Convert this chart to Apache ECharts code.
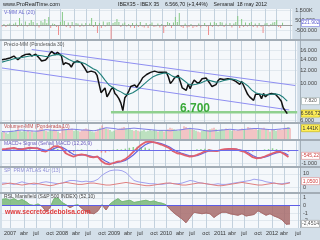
<!DOCTYPE html>
<html><head><meta charset="utf-8">
<script src="https://cdn.jsdelivr.net/npm/echarts@6/dist/echarts.min.js"></script>
<style>html,body{margin:0;padding:0;background:#d3dfe9;}#c{width:320px;height:240px;}</style>
</head><body><div id="c"></div>
<script>
// ---------- categories: biweekly dates (Friday closes) ----------
const categories = [];
(function(){ const d0 = Date.UTC(2006,10,10); for (let i=0;i<150;i++){ categories.push(new Date(d0+i*14*86400000).toISOString().slice(0,10)); } })();
const monthNames = {3:'abr',6:'jul',9:'oct'};

// ---------- data ----------
const price = [
13950,13900,14100,14250,14300,14550,14700,14800,13950,14000,
14650,14900,15050,15000,15150,14700,14850,15100,14900,14200,
13700,14000,13900,14350,15100,15700,15500,15000,15500,15200,
14700,13000,13400,13200,13100,12600,13300,13400,13750,13600,
13350,12800,12300,11700,11800,11900,11950,11700,11200,11300,
8800,8700,9400,8300,8700,9200,9500,8700,8450,8100,
7600,6850,8200,8500,9000,9600,9400,9800,9500,9700,
10300,10850,11000,11350,11400,11700,11750,11900,11600,11700,
11800,11700,11950,11700,10950,10000,10350,10800,10900,11200,
10900,9400,9300,9100,9900,9300,10000,10500,10300,10000,
10300,10700,10900,10800,10850,10000,9600,9800,9860,10400,
10700,10900,10600,10400,10700,10900,10600,10500,10300,10200,
9900,10300,9700,9600,8600,8300,8100,7900,8600,8800,
8600,8100,8700,8300,8560,8500,8700,8700,8600,8400,
8100,7800,7100,7100,6567];
// weighted MA 30 (monthly readings, every 2nd category)
const ma30 = [13500,13700,13900,14150,14300,14400,14550,14700,14800,14850,
14750,14600,14650,14900,15050,14900,14400,13950,13600,13500,
13450,13200,12750,12300,12000,11300,10500,9800,9450,9150,
8900,8600,8600,8800,9100,9500,10000,10500,10950,11250,
11450,11600,11500,11100,10900,10850,10400,9950,9800,9900,
10050,10300,10500,10350,10200,10250,10450,10550,10650,10550,
10300,10100,9700,9150,8800,8650,8550,8550,8600,8650,
8550,8250,7820];
const channelUpper = [[15,16110],[148,9731]];
const channelLower = [[0,12435],[145,6906]];
const supportLevel = 6700;
const priceTicks = [6000,10000,12000,14000,16000];

const volDiff = [
-150,100,-200,80,150,-100,120,250,-180,700,
150,-120,350,-150,200,500,300,-120,200,-250,
400,250,600,200,800,-300,150,100,-200,-1000,
300,1300,400,-200,250,-300,300,-150,200,150,
-200,150,-150,200,-100,150,700,-200,300,-800,
200,-300,350,-150,250,300,-1400,200,300,600,
300,-200,150,250,-150,100,-250,200,-300,150,
-200,300,-150,-250,200,-300,100,250,-200,-150,
150,-250,100,-800,-200,300,200,-300,250,800,
300,1200,-200,-300,150,-250,-200,100,-300,-150,
-200,150,-250,-100,200,-150,-1000,250,-200,300,
200,-150,300,250,-200,150,-100,200,-250,150,
300,900,-300,600,-200,250,-150,200,300,-200,
150,-250,200,-200,-800,150,200,-150,100,250,
300,500,-200,-300,220];
const volDiffTicks = [1500,500,-500];

const volume = [
0.9,1.0,0.8,0.7,1.0,1.1,1.0,1.2,1.5,1.1,1.0,1.1,1.0,1.2,1.0,1.1,0.9,1.0,1.2,1.4,1.5,1.2,1.1,1.0,1.2,1.1,1.3,1.2,1.0,0.8,
1.7,1.4,1.3,1.2,1.3,1.4,1.1,1.2,1.1,1.0,1.2,1.3,1.4,1.3,1.2,1.0,0.9,1.0,1.3,1.5,1.8,1.5,1.4,1.3,1.2,1.0,
1.1,1.2,1.3,1.4,1.5,1.6,1.4,1.3,1.3,1.2,1.1,1.2,1.1,1.0,1.1,1.2,1.0,1.1,1.2,1.1,1.2,1.1,1.0,1.1,1.2,1.0,
1.2,1.3,1.5,1.4,1.3,1.2,1.1,1.2,1.3,1.7,1.6,1.4,1.5,1.3,1.2,1.1,1.0,0.9,1.1,1.2,1.1,1.2,1.3,1.4,1.5,1.3,1.0,
1.2,1.3,1.2,1.4,1.3,1.2,1.1,1.2,1.1,1.2,1.3,1.4,1.3,1.2,1.6,1.5,1.4,1.3,1.4,1.2,1.3,1.4,1.5,1.3,1.2,1.0,
1.3,1.2,1.1,1.2,1.3,1.2,1.4,1.5,1.6,1.44];
const volMA = [1.0,0.95,1.0,1.05,1.15,1.2,1.1,1.1,1.05,1.05,1.15,1.25,1.2,1.15,1.15,1.2,1.25,1.3,1.3,1.25,
1.2,1.2,1.15,1.1,1.2,1.35,1.5,1.45,1.4,1.3,1.3,1.35,1.4,1.45,1.4,1.35,1.3,1.25,1.2,1.15,
1.15,1.15,1.1,1.15,1.2,1.25,1.35,1.4,1.35,1.3,1.2,1.1,1.05,1.1,1.15,1.2,1.25,1.3,1.25,1.2,
1.25,1.3,1.35,1.4,1.4,1.35,1.3,1.25,1.25,1.3,1.35,1.4,1.44];

const macd = [50,80,120,160,60,40,120,180,150,120,-60,-120,50,280,300,150,-250,-400,-520,-400,
-330,-400,-520,-560,-500,-850,-1050,-1100,-1000,-900,-850,-700,-450,-150,150,400,600,640,600,520,
420,300,150,-100,-250,-300,-420,-500,-480,-380,-250,-100,-20,-60,-80,0,60,80,90,40,
-60,-150,-350,-550,-640,-600,-500,-380,-250,-150,-150,-320,-545];
const signal = [30,50,80,120,110,80,90,130,150,140,60,-30,-30,100,220,220,50,-150,-350,-420,
-380,-380,-450,-520,-520,-650,-850,-1000,-1030,-960,-900,-800,-620,-380,-100,180,400,550,600,570,
490,380,250,50,-120,-230,-330,-430,-470,-430,-330,-190,-80,-60,-70,-30,20,60,80,60,
0,-90,-230,-420,-560,-600,-550,-450,-330,-220,-170,-230,-400];
const macdHist = [20,30,40,40,-50,-40,30,50,0,-20,-120,-90,80,180,80,-70,-300,-250,-170,20,
50,-20,-70,-40,20,-200,-200,-100,30,60,50,100,170,230,250,220,200,90,0,-50,
-70,-80,-100,-150,-130,-70,-90,-70,-10,50,80,90,60,0,-10,30,40,20,10,-20,
-60,-60,-120,-130,-80,0,50,70,130,70,20,-90,-145];

const spBlue = [3,3,2.5,2,3,4,3,2.5,2,2.5,3.5,4,3.5,3,2.5,3,4,5,5,4.5,
4,4.5,4,4.5,6,9,11,12.5,13,13,12.5,11,8,5,4,3.5,3,2.5,2.5,2,
2,2.5,3,2.5,2.5,3,4,5,4.5,3.5,3,2.5,2,2,2.5,2,2,2.5,3,3.5,
4,4.5,5,6,5.5,5,4,3.5,3,2.5,2.5,3,3.5];
const spRed = [2,2.5,3,2.5,2,1.5,2,2.5,3,2.5,2,1.5,1,1.5,2.5,3,3.5,3,2.5,2,
2,2.5,3,3,2.5,2,1.5,1.5,2,2.5,3,3.5,3,2.5,2,1.5,1,1,1.5,2,
2.5,3,3,2.5,2,1.5,1.5,2,2.5,3,3,2.5,2,1.5,1,1,1.5,2,2.5,3,
3.5,3,2.5,2,1.5,1.5,2,2.5,3,2.5,2,2.5,3.2];

const rsl = [0.8,0.9,0.7,0.9,0.6,0.8,0.5,0.1,0.0,0.2,-0.1,-0.8,-0.3,0.9,1.0,0.4,0.1,-0.3,0.0,0.1,
-0.4,-0.8,-1.0,-1.1,-0.7,0.1,-0.6,0.2,0.6,0.9,0.5,0.6,0.7,0.4,0.5,0.6,0.7,0.5,0.6,0.4,
0.3,0.1,-0.5,-1.0,-1.4,-1.8,-2.3,-1.6,-0.9,-1.0,-1.1,-1.0,-1.1,-1.6,-1.2,-0.9,-0.9,-1.1,-1.2,-1.3,
-1.1,-1.4,-1.3,-1.2,-0.7,-1.0,-1.3,-1.1,-1.4,-1.6,-1.9,-2.5,-2.45];

// ---------- helpers ----------
const L = Math.log;
const monthOf = i => parseInt(categories[i].slice(5,7),10)-1;
const isQ = categories.map((c,i)=> i>0 && monthOf(i)%3===0 && monthOf(i)!==monthOf(i-1));
const qInterval = (idx) => isQ[idx];
const qLabel = (val) => { const m = parseInt(val.slice(5,7),10)-1; return m===0 ? val.slice(0,4) : (monthNames[m]||''); };
const dots = v => String(Math.round(v)).replace(/\B(?=(\d{3})+(?!\d))/g,'.');
const every2 = arr => arr.map((v,k)=>[2*k, v]);

const FONT = 'Liberation Sans, Arial, sans-serif';
const grids = [
  {top:9, height:30}, {top:41, height:81}, {top:124, height:15},
  {top:141, height:25}, {top:168, height:24}, {top:194, height:34}
].map(g => Object.assign({left:2, right:20, show:true, backgroundColor:'#f5f8fb', borderWidth:0}, g));

const xAxes = grids.map((g,gi)=>({
  type:'category', gridIndex:gi, data:categories, boundaryGap:false,
  axisLine:{show:false}, axisTick:{show:false},
  axisLabel:{show: gi===5, interval:qInterval, formatter:qLabel, fontSize:5.5, color:'#333', margin:2, fontFamily:FONT},
  splitLine:{show:true, interval:qInterval, lineStyle:{color:'#c3d1dd', width:1}}
}));
function yAx(gi, min, max, vals, fmt){
  return {type:'value', gridIndex:gi, min, max, position:'right',
    axisLine:{show:false}, axisTick:{show:false, customValues:vals},
    axisLabel:{show: vals.length>0, customValues:vals, formatter:fmt, fontSize:5.5, color:'#444', margin:3, fontFamily:FONT},
    splitLine:{show: vals.length>0, lineStyle:{color:'#e1e8ee'}}};
}
const yAxes = [
  yAx(0, -1400, 1600, volDiffTicks, v => v===1500 ? '1.500K' : dots(v*1000).replace('-.', '-')),
  yAx(1, L(16000)-72/71.4, L(16000)+9/71.4, priceTicks.map(L), v => dots(Math.round(Math.exp(v)/1000)*1000)),
  yAx(2, 0, 2.0, [], null),
  yAx(3, -1231, 692, [-1000], v => '-1.000'),
  yAx(4, -3.85, 14.6, [0,10], v => String(Math.round(v))),
  yAx(5, -3.0, 1.53, [1,0,-1,-2], v => String(Math.round(v)))
];

const upDown = (v, up, dn) => ({value:v, itemStyle:{color: v>=0 ? up : dn}});
const series = [
  {type:'bar', xAxisIndex:0, yAxisIndex:0, barWidth:1, data: volDiff.map(v=>upDown(v,'#86c986','#ef8f8f')),
   markLine:{silent:true, symbol:'none', label:{show:false}, data:[{yAxis:0}], lineStyle:{color:'#9a9a9a', type:'solid', width:1}}},
  {type:'line', xAxisIndex:1, yAxisIndex:1, data: price.map(L), showSymbol:false, lineStyle:{color:'#111', width:1.5}, z:5},
  {type:'line', xAxisIndex:1, yAxisIndex:1, data: every2(ma30).map(p=>[p[0],L(p[1])]), showSymbol:false, lineStyle:{color:'#1f7f7a', width:1.1}, z:6},
  {type:'line', xAxisIndex:1, yAxisIndex:1, data: channelUpper.map(p=>[p[0],L(p[1])]), showSymbol:false, lineStyle:{color:'#8e8ef2', width:1}},
  {type:'line', xAxisIndex:1, yAxisIndex:1, data: channelLower.map(p=>[p[0],L(p[1])]), showSymbol:false, lineStyle:{color:'#8e8ef2', width:1}},
  {type:'line', xAxisIndex:1, yAxisIndex:1, data: [[55,L(supportLevel)],[149,L(supportLevel)]], showSymbol:false, lineStyle:{color:'#8fd08f', width:2.5}, z:4},
  {type:'bar', xAxisIndex:2, yAxisIndex:2, barWidth:1, data: volume.map((v,i)=>({value:v, itemStyle:{color: (i===0||price[i]>=price[i-1]) ? '#86c986' : '#ef8f8f'}}))},
  {type:'line', xAxisIndex:2, yAxisIndex:2, data: every2(volMA), showSymbol:false, lineStyle:{color:'#8080e6', width:1}},
  {type:'bar', xAxisIndex:3, yAxisIndex:3, barWidth:1.5, data: every2(macdHist).map(p=>({value:p, itemStyle:{color: p[1]>=0 ? '#8ccf8c' : '#f08a8a'}})),
   markLine:{silent:true, symbol:'none', label:{show:false}, data:[{yAxis:0}], lineStyle:{color:'#6b6bea', type:'solid', width:1}}},
  {type:'line', xAxisIndex:3, yAxisIndex:3, data: every2(signal), showSymbol:false, lineStyle:{color:'#6464e0', width:1.2}},
  {type:'line', xAxisIndex:3, yAxisIndex:3, data: every2(macd), showSymbol:false, lineStyle:{color:'#e0606e', width:1.8}},
  {type:'line', xAxisIndex:4, yAxisIndex:4, data: every2(spBlue), showSymbol:false, lineStyle:{color:'#a0a0ee', width:1}},
  {type:'line', xAxisIndex:4, yAxisIndex:4, data: every2(spRed), showSymbol:false, lineStyle:{color:'#e08080', width:1}},
  {type:'line', xAxisIndex:5, yAxisIndex:5, data: every2(rsl), showSymbol:false, lineStyle:{width:0.8}, areaStyle:{opacity:0.85},
   markLine:{silent:true, symbol:'none', label:{show:false}, data:[{yAxis:0}], lineStyle:{color:'#5c5ce6', type:'solid', width:1}}}
];

const chart = echarts.init(document.getElementById('c'));
chart.setOption({
  animation:false, backgroundColor:'#d3dfe9', textStyle:{fontFamily:FONT},
  grid:grids, xAxis:xAxes, yAxis:yAxes, series,
  visualMap:[{type:'piecewise', show:false, seriesIndex:13, dimension:1,
    pieces:[{min:-10, max:0, color:'#a86c6c'},{gt:0, max:10, color:'#78b878'}], outOfRange:{color:'#999'}}]
});

// ---------- graphics: separators, texts, value boxes ----------
const g = [];
[[39,2],[122,2],[139,2],[166,2],[192,2]].forEach(s=>g.push({type:'rect', shape:{x:0,y:s[0],width:320,height:s[1]}, style:{fill:'#a3adb6'}, silent:true}));
g.push({type:'rect', shape:{x:300,y:9,width:0.8,height:219}, style:{fill:'#98a4ae'}, silent:true});
const txt = (x,y,text,color,size,extra) => g.push({type:'text', x, y, silent:true, z:100,
  style:Object.assign({text, fill:color, fontSize:size, fontFamily:FONT, verticalAlign:'middle'}, extra||{})});
txt(3,4.5,'www.ProRealTime.com','#222',5.5);
txt(118,4.5,'IBEX35 - IBEX 35    6.566,70 (+3,44%)    Semanal  18 may 2012','#222',5.2);
txt(4,12.5,'V-MM AL (20)','#6a6ad0',5);
txt(4,44.5,'Precio-MM (Ponderada 30)','#555',5);
txt(4,127,'Volumen-MM (Ponderada 10)','#c05050',5);
txt(4,144,'MACD+ Signal (Señal) MACD (12,26,9)','#7060c0',5);
txt(4,171,'SP  PRM ATLAS 4Lr (13)','#8f8fd6',5);
txt(4,197,'RSL Mansfield (S&P 500 INDEX) (52,10)','#444',5);
txt(5,212.5,'www.secretosdebolsa.com','#e03a3a',6.7,{fontWeight:'bold'});
txt(180,109,'6.700','#3aaa3a',12,{fontWeight:'bold'});

function box(yAxisIndex, v, text, fill, stroke, color){
  const y = chart.convertToPixel({yAxisIndex}, v);
  g.push({type:'rect', z:101, shape:{x:301.5,y:y-3.5,width:18,height:7}, style:{fill, stroke, lineWidth:0.6}, silent:true});
  g.push({type:'text', z:102, x:310.5, y, silent:true, style:{text, fill:color, fontSize:5, fontFamily:FONT, align:'center', verticalAlign:'middle'}});
}
box(0, 200, '221.902', '#ffffff', '#7a7ae0', '#5a5ad0');
box(1, L(7820), '7.820', '#ffffff', '#9aa', '#555');
box(1, L(6566.7), '6.566,72', '#ffef5a', '#c8b400', '#333');
box(2, 1.44, '1.441K', '#ffef5a', '#c8b400', '#333');
box(3, -450, '-545,22', '#ffffff', '#e08a8a', '#d04040');
box(4, 4.5, '1,0500', '#ffffff', '#e08a8a', '#d04040');
box(5, -2.45, '-2,4514', '#ffffff', '#999', '#555');
chart.setOption({graphic:g});
</script></body></html>
